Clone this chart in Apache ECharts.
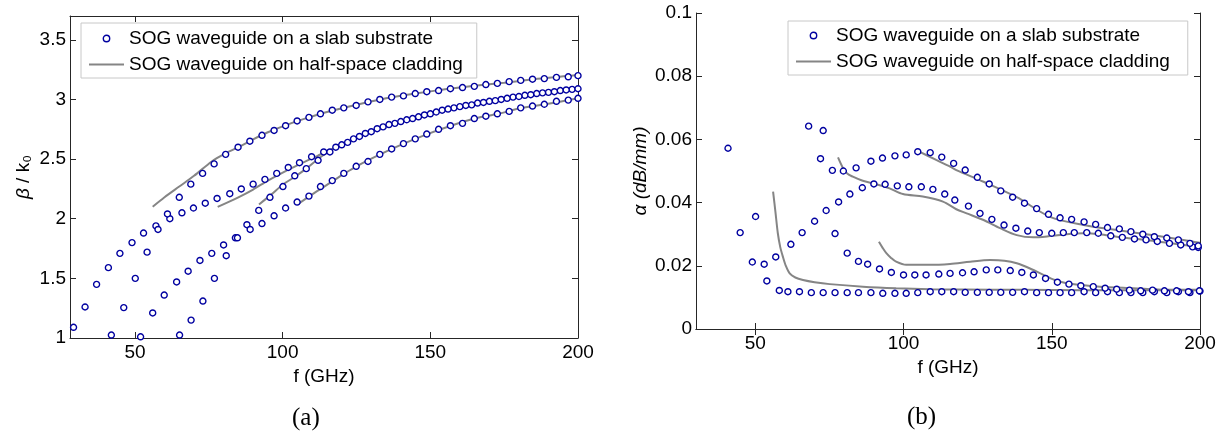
<!DOCTYPE html>
<html><head><meta charset="utf-8">
<script src="https://cdn.jsdelivr.net/npm/echarts@6/dist/echarts.min.js"></script>
<style>html,body{margin:0;padding:0;background:#fff}#c{width:1226px;height:435px}</style>
</head><body><div id="c"></div>
<script>
const NAME_SLAB = 'SOG waveguide on a slab substrate';
const NAME_HALF = 'SOG waveguide on half-space cladding';
const xTicks = [50, 100, 150, 200];
const yTicksA = [1, 1.5, 2, 2.5, 3, 3.5];
const yTicksB = [0, 0.02, 0.04, 0.06, 0.08, 0.1];

// (a) beta/k0, slab substrate (dots)
const slabA = [[29.2,1.09],[33.1,1.26],[37.0,1.45],[41.0,1.59],[44.9,1.71],[49.0,1.80],[52.9,1.88],[57.1,1.94],[61.8,2.00],[65.9,2.05],[69.8,2.09],[73.8,2.13],[77.8,2.17],[82.1,2.21],[86.0,2.25],[90.0,2.29],[94.0,2.33],[98.0,2.38],[101.9,2.43],[105.7,2.47],[109.8,2.52],[113.9,2.56],[118,2.60],[122,2.64],[126,2.69],[130,2.73],[134,2.77],[138,2.80],[142,2.83],[146,2.855],[150,2.88],[154,2.91],[158,2.93],[162,2.95],[166,2.97],[170,2.985],[174,3.00],[178,3.02],[182,3.035],[186,3.05],[190,3.06],[194,3.075],[198,3.085]];
const slabB = [[42.0,1.025],[46.2,1.255],[50.1,1.50],[54.1,1.72],[57.8,1.91],[61.0,2.04],[65.0,2.18],[68.9,2.29],[72.9,2.38],[76.8,2.46],[80.7,2.54],[84.9,2.60],[88.9,2.65],[93.0,2.70],[97.1,2.74],[101.0,2.78],[104.9,2.82],[108.9,2.85],[112.8,2.88],[116.8,2.91],[120.7,2.93],[124.9,2.95],[128.9,2.98],[132.9,3.00],[136.9,3.02],[140.9,3.03],[144.9,3.05],[148.8,3.065],[152.8,3.075],[156.8,3.09],[160.9,3.10],[164.9,3.11],[168.8,3.125],[172.7,3.135],[176.7,3.15],[180.6,3.16],[184.6,3.17],[188.6,3.175],[192.7,3.185],[196.7,3.19],[200,3.20]];
const slabC = [[51.9,1.01],[56.0,1.21],[59.9,1.36],[64.1,1.47],[68.0,1.56],[72.0,1.65],[76.0,1.71],[80.0,1.78],[84.0,1.84],[87.9,1.95],[91.9,2.07],[95.7,2.18],[100.1,2.27],[104.1,2.36],[108.0,2.42],[112.0,2.49],[116,2.56],[120,2.62],[124,2.67],[128,2.715],[132,2.755],[136,2.79],[140,2.815],[144,2.84],[148,2.87],[152,2.895],[156,2.92],[160,2.94],[164,2.955],[168,2.975],[172,2.99],[176,3.01],[180,3.025],[184,3.04],[188,3.055],[192,3.065],[196,3.08],[200,3.09]];
const slabD = [[65.1,1.025],[69.0,1.15],[73.0,1.31],[76.9,1.50],[80.9,1.69],[84.7,1.84],[89.0,1.91],[93.0,1.96],[97.1,2.025],[101.0,2.09],[104.9,2.14],[108.9,2.19],[112.8,2.27],[116.8,2.32],[120.7,2.38],[124.9,2.44],[128.9,2.48],[132.9,2.54],[136.9,2.585],[140.9,2.63],[144.9,2.67],[148.8,2.71],[152.8,2.75],[156.8,2.78],[160.9,2.80],[164.9,2.84],[168.8,2.86],[172.7,2.88],[176.7,2.90],[180.6,2.93],[184.6,2.945],[188.6,2.96],[192.7,2.985],[196.7,2.995],[200,3.01]];
// (a) half-space cladding (lines)
const half1 = [[56,2.10],[60,2.18],[65,2.27],[70,2.36],[76,2.48],[80,2.54],[85,2.60],[90,2.665],[95,2.725],[100,2.775],[107,2.835],[115,2.895],[125,2.955],[135,3.01],[145,3.05],[155,3.085],[165,3.115],[175,3.14],[185,3.17],[200,3.205]];
const half2 = [[78,2.10],[85,2.18],[90,2.245],[95,2.32],[101,2.40],[106,2.46],[112,2.53],[120,2.62],[130,2.73],[140,2.815],[150,2.88],[160,2.94],[170,2.98],[180,3.025],[190,3.06],[200,3.095]];
const half3 = [[92,2.12],[96,2.20],[100,2.285],[104,2.35],[108,2.42],[113,2.52],[118,2.60]];
const half4 = [[105,2.12],[110,2.205],[116,2.30],[121,2.38],[125,2.44],[133,2.54],[141,2.63],[149,2.71],[157,2.78],[165,2.84],[173,2.88],[181,2.93],[189,2.96],[200,3.01]];

// (b) alpha, slab substrate (dots)
const alpha1 = [[40.8,0.0572],[44.9,0.0305],[49.0,0.0212],[53.9,0.0152],[58.1,0.0122],[61.0,0.0118],[64.9,0.0118],[68.9,0.0115],[72.9,0.0115],[76.9,0.0115],[81.0,0.0115],[84.8,0.0115],[89.0,0.0115],[93.0,0.0113],[97.1,0.0113],[100.9,0.0113],[104.8,0.0115],[109.0,0.0118],[112.9,0.0118],[116.9,0.0118],[120.8,0.0116],[124.9,0.0116],[128.9,0.0116],[132.8,0.0116],[136.8,0.0116],[140.8,0.0118],[144.9,0.0115],[148.9,0.0115],[152.8,0.0115],[156.7,0.0115],[160.9,0.0118],[164.8,0.0115],[168.8,0.0118],[172.8,0.0115],[176.7,0.0115],[180.7,0.0115],[184.6,0.0118],[188.8,0.0115],[192.7,0.0118],[196.6,0.0115],[200.0,0.0120]];
const alpha2 = [[50.1,0.0356],[53.0,0.0205],[56.9,0.0228],[62.0,0.0268],[65.8,0.0305],[70.0,0.0341],[73.9,0.0375],[78.1,0.0402],[81.9,0.0427],[86.1,0.0447],[90.0,0.0459],[93.8,0.0458],[97.9,0.0453],[101.8,0.0450],[106.0,0.0450],[109.9,0.0442],[113.9,0.0427],[117.3,0.0408],[121.9,0.0389],[125.8,0.0366],[129.8,0.0347],[133.9,0.0329],[137.9,0.0319],[141.9,0.0310],[145.8,0.0305],[150.0,0.0303],[153.9,0.0305],[157.6,0.0305],[161.8,0.0305],[165.7,0.0303],[169.9,0.0295],[173.8,0.0290],[177.9,0.0285],[181.8,0.0282],[185.6,0.0277],[189.7,0.0271],[193.5,0.0266],[197.5,0.0260],[199.4,0.0258]];
const alpha3 = [[68.0,0.0642],[72.9,0.0628],[72.0,0.0539],[76.0,0.0502],[79.7,0.0500],[84.0,0.0510],[89.0,0.0531],[92.9,0.0541],[97.1,0.0548],[100.9,0.0551],[104.8,0.0561],[109.0,0.0558],[112.9,0.0544],[116.9,0.0524],[120.8,0.0503],[124.9,0.0480],[128.9,0.0459],[132.8,0.0437],[136.8,0.0417],[140.8,0.0398],[144.9,0.0381],[148.9,0.0363],[152.8,0.0352],[156.7,0.0347],[160.9,0.0339],[164.8,0.0331],[168.8,0.0321],[172.8,0.0317],[176.7,0.0308],[180.7,0.0300],[184.6,0.0292],[188.8,0.0288],[192.7,0.0282],[196.6,0.0271],[199.4,0.0263]];
const alpha4 = [[76.9,0.0302],[81.0,0.0240],[84.8,0.0214],[87.9,0.0205],[91.9,0.0190],[95.9,0.0179],[100.0,0.0171],[103.8,0.0171],[107.6,0.0171],[111.9,0.0174],[115.7,0.0176],[119.9,0.0178],[123.8,0.0181],[127.9,0.0187],[131.8,0.0187],[136.0,0.0185],[139.9,0.0179],[143.8,0.0171],[147.9,0.0160],[151.9,0.0148],[155.8,0.0142],[159.8,0.0137],[164.0,0.0134],[168.0,0.0129],[171.9,0.0126],[176.2,0.0123],[180.0,0.0121],[184.0,0.0123],[188.0,0.0121],[192.1,0.0121],[196.1,0.0118],[199.8,0.0121]];
// (b) half-space cladding (lines)
const halfA = [[56.0,0.0435],[56.8,0.037],[57.6,0.0303],[58.4,0.026],[59.3,0.0229],[60.3,0.0200],[61.6,0.0176],[63.5,0.0163],[66.1,0.0155],[70,0.0148],[75.1,0.0142],[86.3,0.0134],[97.5,0.0129],[108.8,0.0126],[120,0.0125],[140,0.0124],[160,0.0123],[180,0.0123],[200,0.0123]];
const halfB = [[77.9,0.0543],[79.6,0.0509],[81,0.0492],[82.9,0.0482],[86,0.0470],[89.7,0.0461],[95.3,0.0445],[99.8,0.0427],[106.5,0.0419],[113.3,0.0403],[117.8,0.0379],[121.3,0.0366],[127.0,0.0345],[132.6,0.0319],[138.2,0.0297],[143.8,0.0290],[149.4,0.0294],[155.0,0.0300],[160.7,0.0303],[166.3,0.0300],[171.9,0.0292],[183.1,0.0280],[194.4,0.0266],[200,0.0261]];
const halfC = [[104.8,0.0564],[111.0,0.0535],[115.7,0.0514],[117.8,0.0503],[127.0,0.0466],[138.2,0.0417],[149.4,0.0355],[160.7,0.0329],[171.9,0.0313],[183.1,0.0298],[194.4,0.0282],[200,0.0273]];
const halfD = [[91.7,0.0276],[93,0.0256],[94.2,0.0240],[95.8,0.0225],[97.5,0.0213],[100.9,0.0203],[108.8,0.0203],[115.7,0.0206],[122.5,0.0213],[129.2,0.0218],[134,0.0216],[138.2,0.0208],[143,0.0190],[147.2,0.0171],[151,0.0155],[155.0,0.0145],[160,0.0139],[166.3,0.0134],[177.5,0.0129],[188.8,0.0124],[200,0.0124]];

const FONT = 'Liberation Sans, Arial, sans-serif';
const AX = '#262626';

function dots(data, g) {
  return { type: 'line', name: NAME_SLAB, data: data, xAxisIndex: g * 2, yAxisIndex: g * 2,
    symbol: 'circle', symbolSize: 6, showSymbol: true, showAllSymbol: true,
    lineStyle: { opacity: 0, width: 0 },
    itemStyle: { color: '#ffffff', borderColor: '#0000a0', borderWidth: 1.4 },
    z: 4, silent: true, animation: false, clip: false };
}
function curve(data, g) {
  return { type: 'line', name: NAME_HALF, data: data, xAxisIndex: g * 2, yAxisIndex: g * 2,
    symbol: 'none', smooth: 0.3,
    lineStyle: { color: '#858585', width: 2 }, itemStyle: { color: '#858585' },
    z: 3, silent: true, animation: false };
}
function xAxes(g, min) {
  const base = { type: 'value', gridIndex: g, min: min, max: 200, splitLine: { show: false },
    axisLine: { lineStyle: { color: AX, width: 1 } },
    axisTick: { inside: true, length: 6, customValues: xTicks, lineStyle: { color: AX } } };
  return [
    Object.assign({}, base, { position: 'bottom',
      axisLabel: { customValues: xTicks, margin: 5, fontSize: 19, color: '#000', fontFamily: FONT },
      name: 'f (GHz)', nameLocation: 'middle', nameGap: g === 0 ? 22 : 25,
      nameTextStyle: { fontSize: 19, color: '#000', fontFamily: FONT } }),
    Object.assign({}, base, { position: 'top', axisLabel: { show: false } })
  ];
}
function yAxes(g, min, max, ticks, name, gap, nts) {
  const base = { type: 'value', gridIndex: g, min: min, max: max, splitLine: { show: false },
    axisLine: { lineStyle: { color: AX, width: 1 } },
    axisTick: { inside: true, length: 6, customValues: ticks, lineStyle: { color: AX } } };
  return [
    Object.assign({}, base, { position: 'left',
      axisLabel: { customValues: ticks, margin: 4, fontSize: 19, color: '#000', fontFamily: FONT },
      name: name, nameLocation: 'middle', nameGap: gap, nameRotate: 90,
      nameTextStyle: Object.assign({ fontSize: 19, color: '#000', fontFamily: FONT }, nts) }),
    Object.assign({}, base, { position: 'right', axisLabel: { show: false } })
  ];
}
function legend(left, top, pad) {
  return { left: left, top: top, orient: 'vertical',
    data: [ { name: NAME_SLAB, itemStyle: { borderWidth: 1.4 } },
            { name: NAME_HALF, itemStyle: { opacity: 0 } } ],
    itemWidth: 35, itemHeight: 8, itemGap: 7, padding: pad,
    borderColor: '#c8c8c8', borderWidth: 1, backgroundColor: '#fff',
    textStyle: { fontSize: 19, color: '#000', fontFamily: FONT }, selectedMode: false };
}

const series = [];
[slabA, slabB, slabC, slabD].forEach(d => series.push(dots(d, 0)));
[half1, half2, half3, half4].forEach(d => series.push(curve(d, 0)));
[alpha1, alpha2, alpha3, alpha4].forEach(d => series.push(dots(d, 1)));
[halfA, halfB, halfC, halfD].forEach(d => series.push(curve(d, 1)));

const chart = echarts.init(document.getElementById('c'), null, { renderer: 'canvas' });
chart.setOption({
  animation: false,
  backgroundColor: '#fff',
  grid: [
    { left: 70, top: 16, width: 508, height: 322 },
    { left: 696, top: 13, width: 504, height: 316 }
  ],
  xAxis: xAxes(0, 28).concat(xAxes(1, 30)),
  yAxis: yAxes(0, 1, 3.7, yTicksA, '{i|β} / k₀', 37, { rich: { i: { fontStyle: 'italic', fontSize: 19, fontFamily: FONT } } })
    .concat(yAxes(1, 0, 0.1, yTicksB, 'α (dB/mm)', 46, { fontStyle: 'italic' })),
  legend: [ legend(81, 23, [6, 14, 4, 7]), legend(788, 21, [5, 18, 4, 7]) ],
  graphic: [
    { type: 'text', left: 292, top: 406, style: { text: '(a)', fontSize: 25, fontFamily: 'Liberation Serif, Times New Roman, serif', fill: '#000' } },
    { type: 'text', left: 907, top: 405, style: { text: '(b)', fontSize: 25, fontFamily: 'Liberation Serif, Times New Roman, serif', fill: '#000' } }
  ],
  series: series
});
</script></body></html>
